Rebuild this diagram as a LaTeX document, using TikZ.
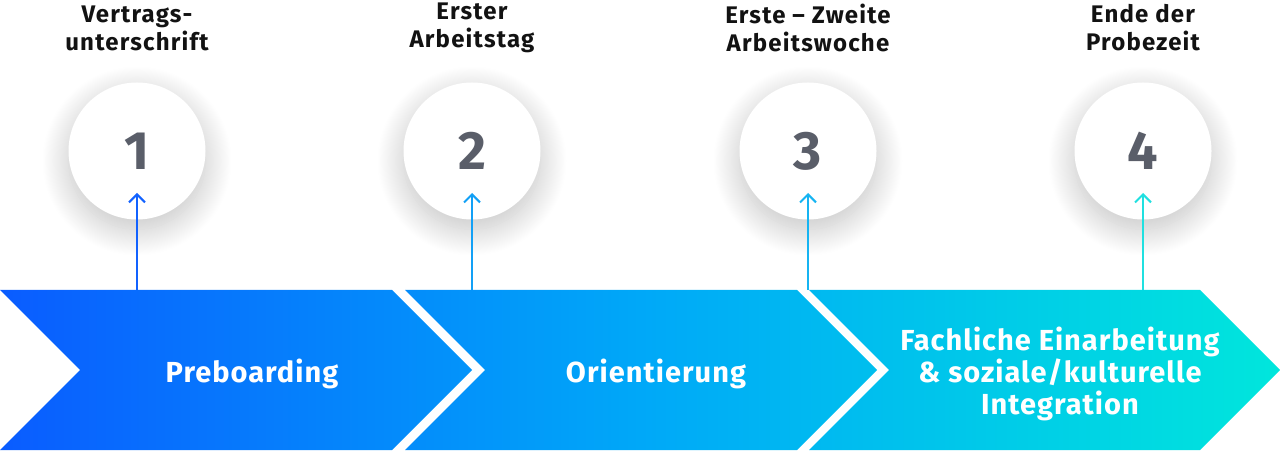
\documentclass[tikz,border=0pt]{standalone}
\usepackage{fontspec}
\setmainfont{Fira Sans}
\usetikzlibrary{positioning}
\usetikzlibrary{arrows.meta}
\usetikzlibrary{shadows.blur}
\definecolor{bandA}{HTML}{0A5CFF}
\definecolor{bandB}{HTML}{00A8F8}
\definecolor{bandC}{HTML}{00E6DC}
\definecolor{lineA}{HTML}{1262FF}
\definecolor{lineB}{HTML}{12A0F6}
\definecolor{lineC}{HTML}{16B4F2}
\definecolor{lineD}{HTML}{20E0E0}
\definecolor{digitgray}{HTML}{5A5E69}

\begin{document}
\begin{tikzpicture}[x=1pt,y=1pt,
    milestone/.style={circle,fill=white,minimum size=137pt,inner sep=0pt,
      blur shadow={shadow xshift=0pt,shadow yshift=-10pt,shadow blur radius=26pt,
        shadow blur steps=30,shadow opacity=24},
      text=digitgray,font=\fontsize{54}{54}\selectfont\bfseries},
    headline/.style={align=center,text=black!93,
      font=\fontsize{24}{28}\selectfont\bfseries\addfontfeatures{LetterSpace=5}},
    phase/.style={align=center,text=white,
      font=\fontsize{29}{32}\selectfont\bfseries\addfontfeatures{LetterSpace=3.5}},
    pointer/.style={line width=2pt,-{Straight Barb[length=8pt,width=16pt,line width=2pt]}}
  ]
  \useasboundingbox (0,0) rectangle (1280,450);
  % band of the three phases
  \shade[left color=bandA,right color=bandC,middle color=bandB]
    (0,160) -- (392,160) -- (472,80) -- (392,0) -- (0,0) -- (80,80) -- cycle
    (405,160) -- (797,160) -- (877,80) -- (797,0) -- (405,0) -- (485,80) -- cycle
    (809,160) -- (1200,160) -- (1280,80) -- (1200,0) -- (809,0) -- (889,80) -- cycle;
  \node[phase] (p1) at (252,76) {Preboarding};
  \node[phase] (p2) at (656,76) {Orientierung};
  \node[phase] (p3) at (1060,76) {Fachliche Einarbeitung\\ \& soziale/kulturelle\\ Integration};
  % milestones
  \foreach \i/\x/\c/\t in {1/137/lineA/{Vertrags-\\unterschrift},
                           2/472/lineB/{Erster\\Arbeitstag},
                           3/808/lineC/{Erste -- Zweite\\Arbeitswoche},
                           4/1143/lineD/{Ende der\\Probezeit}} {
    \node[milestone] (m\i) at (\x,299) {\i};
    \node[headline] (h\i) at (\x,422) {\t};
    \coordinate (b\i) at (\x,160);
    \coordinate (a\i) at (\x,257);
    \draw[pointer,\c] (b\i) -- (a\i);
  }
\end{tikzpicture}
\end{document}
